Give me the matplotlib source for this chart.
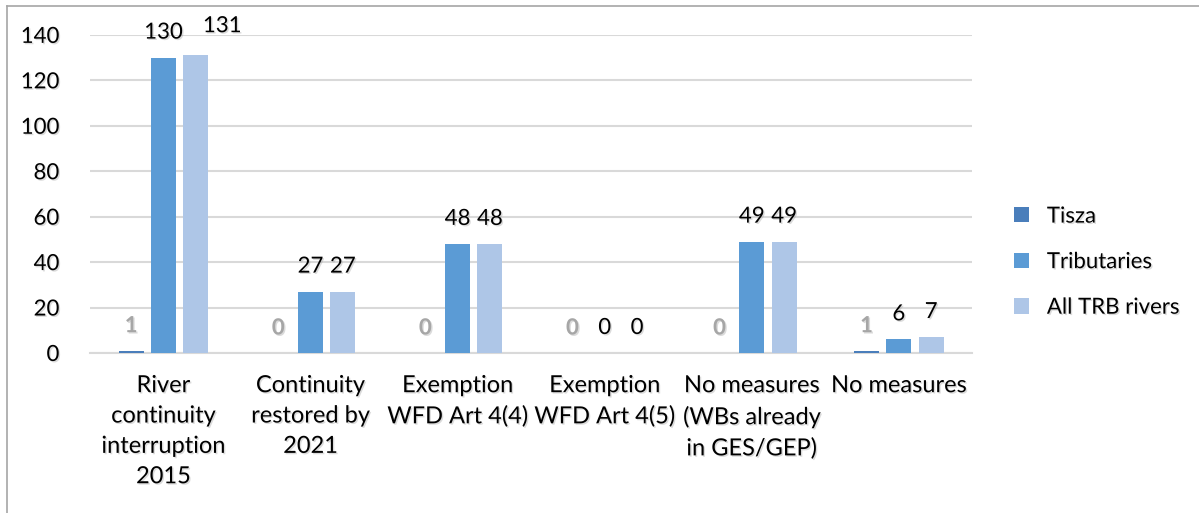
import numpy as np
import matplotlib
matplotlib.use('Agg')
import matplotlib.pyplot as plt
import matplotlib.patheffects as pe
from matplotlib.lines import Line2D

categories = ['River\ncontinuity\ninterruption\n2015', 'Continuity\nrestored by\n2021',
              'Exemption\nWFD Art 4(4)', 'Exemption\nWFD Art 4(5)',
              'No measures\n(WBs already\nin GES/GEP)', 'No measures']
series = ['Tisza', 'Tributaries', 'All TRB rivers']
tisza = [1, 0, 0, 0, 0, 1]
tributaries = [130, 27, 48, 0, 49, 6]
all_trb = [131, 27, 48, 0, 49, 7]
yticks = [0, 20, 40, 60, 80, 100, 120, 140]

colors = ['#4a7ebb', '#5b9bd5', '#aec6e7']
label_colors = ['#a6a6a6', 'black', 'black']

plt.rcParams['font.family'] = ['Lato', 'DejaVu Sans']
shadow = [pe.SimplePatchShadow(offset=(1, -1), shadow_rgbFace='#999999', alpha=0.35), pe.Normal()]

fig = plt.figure(figsize=(11.99, 5.13), dpi=100)
ax = fig.add_axes([0.075, 0.312, 0.736, 0.62])

x = np.arange(len(categories))
w = 0.17; step = 0.22
for k, vals in enumerate([tisza, tributaries, all_trb]):
    xs = x + (k - 1) * step
    ax.bar(xs, vals, width=w, color=colors[k], label=series[k], zorder=3)
    for i, (xi, v) in enumerate(zip(xs, vals)):
        dx, dy = 0, 18
        if k == 2 and i == 0:
            # label was nudged right in the original so it clears "130"
            dx, dy = 19, 21
        ax.annotate(str(v), (xi, v), xytext=(dx, dy), textcoords='offset points',
                    ha='center', va='center', fontsize=16, color=label_colors[k],
                    fontweight='bold' if k == 0 else 'normal', path_effects=shadow)

ax.set_xlim(-0.5, len(categories) - 0.5)
ax.set_ylim(0, 140)
ax.set_yticks(yticks)
ax.set_xticks(x)
ax.set_xticklabels(categories, fontsize=17, linespacing=1.55)
for t in ax.get_yticklabels():
    t.set_fontsize(16)
for t in ax.get_xticklabels() + ax.get_yticklabels():
    t.set_path_effects(shadow)
ax.tick_params(axis='both', length=0)
ax.tick_params(axis='x', pad=16)
ax.tick_params(axis='y', pad=22)
ax.grid(axis='y', color='#d9d9d9', lw=1.5, zorder=0)
for s in ['top', 'right', 'left']:
    ax.spines[s].set_visible(False)
ax.spines['bottom'].set_color('#d9d9d9')
ax.spines['bottom'].set_linewidth(1.5)

leg = fig.legend(loc='center left', bbox_to_anchor=(0.829, 0.489), frameon=False,
                 fontsize=16, handlelength=0.68, handleheight=0.68, handletextpad=0.8,
                 labelspacing=1.15)
for t in leg.get_texts():
    t.set_path_effects(shadow)

# chart frame
fig.add_artist(Line2D([0.006, 0.006], [0, 0.988], color='#a6a6a6', lw=1.2))
fig.add_artist(Line2D([0.006, 1], [0.988, 0.988], color='#a6a6a6', lw=1.2))

fig.savefig('out.png', dpi=100)
